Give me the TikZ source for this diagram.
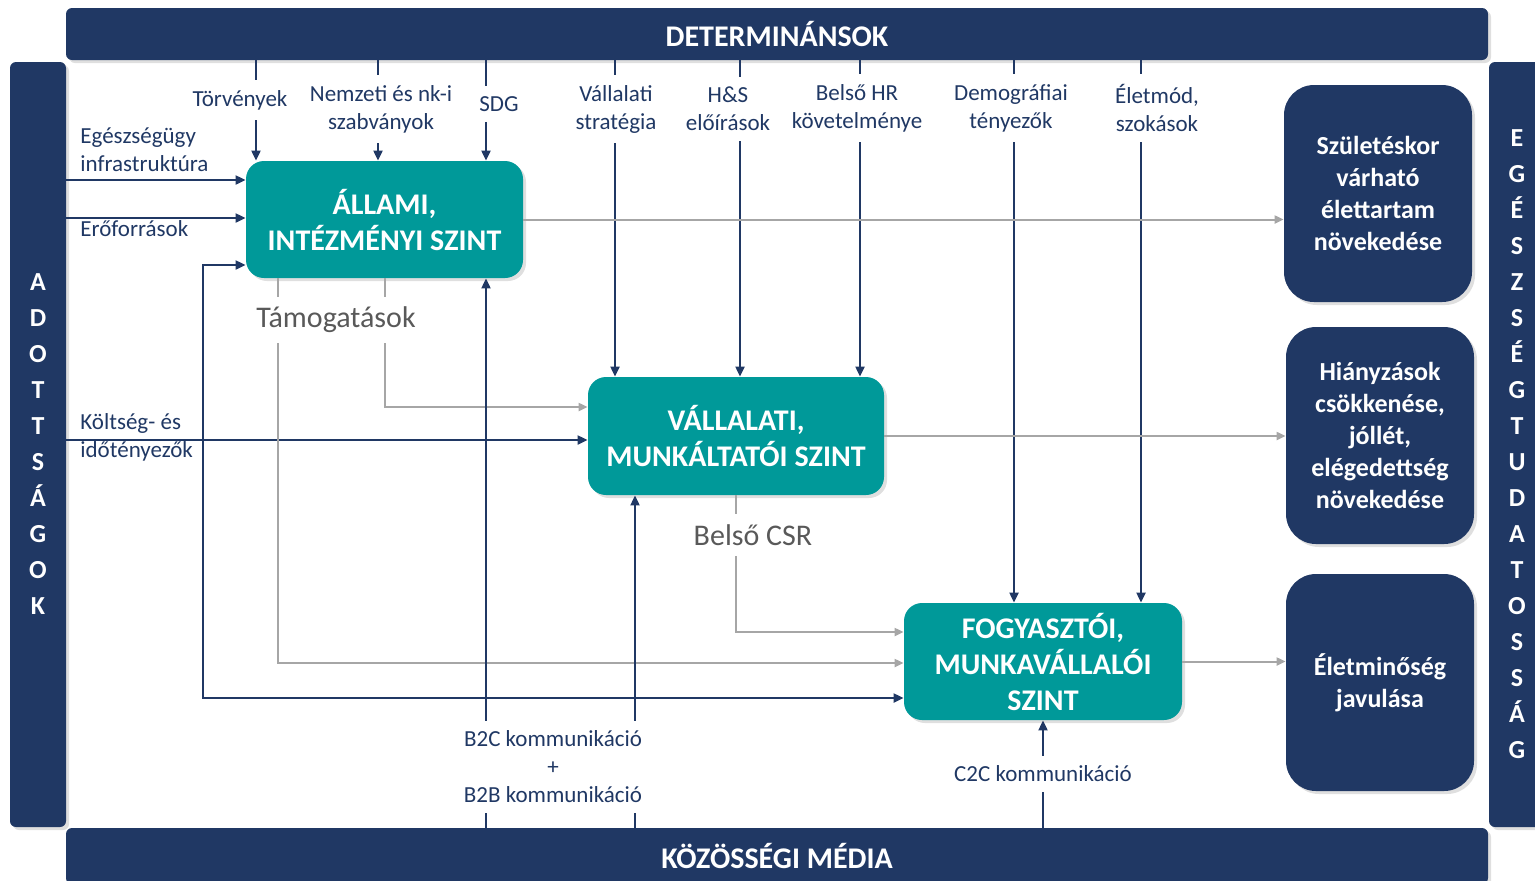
\documentclass[tikz,border=0pt]{standalone}
\usepackage{fontspec}
\setmainfont{Carlito}
\usetikzlibrary{arrows.meta,shadows,calc}
\definecolor{sotetkek}{RGB}{32,56,100}
\definecolor{turkiz}{RGB}{0,153,153}
\definecolor{vilszurke}{RGB}{166,166,166}
\definecolor{szurke}{RGB}{89,89,89}
\newcommand{\feed}[2]{
  \draw [feed] (#1) to (#2)
}
\newcommand{\stub}[2]{
  \draw [stub] (#1) to (#2)
}
\tikzset{
  arnyek/.style={drop shadow={opacity=0.25,shadow xshift=1.5pt,shadow yshift=-1.5pt}},
  bar/.style={fill=sotetkek, rounded corners=3pt, text=white, arnyek,
    font=\bfseries\fontsize{15}{18}\selectfont},
  sidebar/.style={bar, minimum width=28pt, minimum height=382.5pt, align=center,
    font=\bfseries\fontsize{13}{18}\selectfont},
  szint/.style={fill=turkiz, rounded corners=9pt, text=white, align=center, inner sep=2pt,
    arnyek, font=\bfseries\fontsize{15}{18}\selectfont},
  cel/.style={fill=sotetkek, rounded corners=15pt, text=white, align=center,
    minimum width=94pt, minimum height=108.5pt, arnyek,
    font=\bfseries\fontsize{13}{16}\selectfont},
  lbl/.style={text=sotetkek, align=center, inner sep=5pt, font=\fontsize{11.5}{14}\selectfont},
  glbl/.style={text=szurke, inner sep=5pt, font=\fontsize{15}{17}\selectfont},
  feed/.style={draw=sotetkek, line width=1pt, -{Triangle[length=5pt,width=4.5pt]}},
  kettos/.style={feed, {Triangle[length=5pt,width=4.5pt]}-{Triangle[length=5pt,width=4.5pt]}},
  stub/.style={draw=sotetkek, line width=1pt},
  gfeed/.style={draw=vilszurke, line width=1pt, -{Triangle[length=4.5pt,width=4pt]}},
  gstub/.style={draw=vilszurke, line width=1pt}
}
\begin{document}
\begin{tikzpicture}[x=0.5pt,y=-0.5pt]
\useasboundingbox (0,0) rectangle (1535,880);

% frame
\node[bar, minimum width=711pt, minimum height=26pt] (determ) at (777,34) {DETERMINÁNSOK};
\node[bar, minimum width=711pt, minimum height=28pt] (media) at (777,856) {KÖZÖSSÉGI MÉDIA};
\node[sidebar] (adott) at (38,444.5) {A\\D\\O\\T\\T\\S\\Á\\G\\O\\K};
\node[sidebar] (tudat) at (1517,444.5) {E\\G\\É\\S\\Z\\S\\É\\G\\T\\U\\D\\A\\T\\O\\S\\S\\Á\\G};

% levels
\node[szint, minimum width=138.5pt, minimum height=58.5pt] (allami) at (384.5,219.5) {ÁLLAMI,\\INTÉZMÉNYI SZINT};
\node[szint, minimum width=148pt, minimum height=59pt] (vallalati) at (736,436) {VÁLLALATI,\\MUNKÁLTATÓI SZINT};
\node[szint, minimum width=139pt, minimum height=58.5pt] (fogyaszto) at (1043,661.5) {FOGYASZTÓI,\\MUNKAVÁLLALÓI\\SZINT};

% outcomes
\node[cel] (cel1) at (1378,193.5) {Születéskor\\várható\\élettartam\\növekedése};
\node[cel] (cel2) at (1380,435.5) {Hiányzások\\csökkenése,\\jóllét,\\elégedettség\\növekedése};
\node[cel] (cel3) at (1380,682.5) {Életminőség\\javulása};

% top labels
\node[lbl] (torv)  at ( 240,100) {Törvények};
\node[lbl] (nemz)  at ( 381,109) {Nemzeti és nk-i\\szabványok};
\node[lbl] (sdg)   at ( 499,104) {SDG};
\node[lbl] (strat) at ( 616,109) {Vállalati\\stratégia};
\node[lbl] (hs)    at ( 728,109) {H\&S\\előírások};
\node[lbl] (hr)    at ( 857,108) {Belső HR\\követelménye};
\node[lbl] (demo)  at (1011,108) {Demográfiai\\tényezők};
\node[lbl] (eletm) at (1157,108) {Életmód,\\szokások};

% left labels
\node[lbl, anchor=west, align=left] (infra) at (70,150) {Egészségügy\\infrastruktúra};
\node[lbl, anchor=west] (eroforr) at (70,229) {Erőforrások};
\node[lbl, anchor=west, align=left] (koltseg) at (70,437) {Költség- és\\időtényezők};

% grey labels
\node[glbl] (tamog) at (336,320) {Támogatások};
\node[glbl] (csr)   at (753,535) {Belső CSR};

% bottom labels
\node[lbl] (b2c) at ( 553,767) {B2C kommunikáció\\+\\B2B kommunikáció};
\node[lbl] (c2c) at (1043,774) {C2C kommunikáció};

% line positions
\coordinate (xTorv)  at ( 256,0);
\coordinate (xNemz)  at ( 378,0);
\coordinate (xSdg)   at ( 486,0);
\coordinate (xStrat) at ( 615,0);
\coordinate (xHs)    at ( 740,0);
\coordinate (xHr)    at ( 860,0);
\coordinate (xDemo)  at (1014,0);
\coordinate (xEletm) at (1141,0);
\coordinate (xTamA)  at ( 278,0);
\coordinate (xTamB)  at ( 385,0);
\coordinate (xKor)   at ( 203,0);
\coordinate (xB2b)   at ( 635,0);

% entry points
\coordinate (inInfra) at ($(allami.west)+(0,-39.5)$);
\coordinate (inEro)   at ($(allami.west)+(0,-1.5)$);
\coordinate (inKor)   at ($(allami.west)+(0,45.5)$);
\coordinate (inKolt)  at ($(vallalati.west)+(0,4)$);
\coordinate (inTamB)  at ($(vallalati.west)+(0,-29)$);
\coordinate (inCsr)   at ($(fogyaszto.west)+(0,-29.5)$);
\coordinate (inTamA)  at ($(fogyaszto.west)+(0,1.5)$);
\coordinate (inKor2)  at ($(fogyaszto.west)+(0,36.5)$);

% connect determinants
\stub {xTorv |- determ.south} {xTorv |- torv.north};
\feed {xTorv |- torv.south} {xTorv |- allami.north};
\stub {xNemz |- determ.south} {xNemz |- nemz.north};
\feed {xNemz |- nemz.south} {xNemz |- allami.north};
\stub {xSdg |- determ.south} {xSdg |- sdg.north};
\feed {xSdg |- sdg.south} {xSdg |- allami.north};
\stub {xStrat |- determ.south} {xStrat |- strat.north};
\feed {xStrat |- strat.south} {xStrat |- vallalati.north};
\stub {xHs |- determ.south} {xHs |- hs.north};
\feed {xHs |- hs.south} {xHs |- vallalati.north};
\stub {xHr |- determ.south} {xHr |- hr.north};
\feed {xHr |- hr.south} {xHr |- vallalati.north};
\stub {xDemo |- determ.south} {xDemo |- demo.north};
\feed {xDemo |- demo.south} {xDemo |- fogyaszto.north};
\stub {xEletm |- determ.south} {xEletm |- eletm.north};
\feed {xEletm |- eletm.south} {xEletm |- fogyaszto.north};

% connect left side
\feed {inInfra -| adott.east} {inInfra};
\feed {inEro -| adott.east} {inEro};
\feed {inKolt -| adott.east} {inKolt};
\draw[kettos] (inKor) -- (inKor -| xKor) -- (inKor2 -| xKor) -- (inKor2);

% connect support lines
\draw[gstub] (xTamA |- allami.south) -- (xTamA |- tamog.north);
\draw[gstub] (xTamB |- allami.south) -- (xTamB |- tamog.north);
\draw[gfeed] (xTamA |- tamog.south) |- (inTamA);
\draw[gfeed] (xTamB |- tamog.south) |- (inTamB);
\draw[gstub] (vallalati.south) -- (vallalati.south |- csr.north);
\draw[gfeed] (vallalati.south |- csr.south) |- (inCsr);

% connect outcomes
\draw[gfeed] (allami.east) -- (allami.east -| cel1.west);
\draw[gfeed] (vallalati.east) -- (vallalati.east -| cel2.west);
\draw[gfeed] (fogyaszto.east) -- (fogyaszto.east -| cel3.west);

% connect social media
\stub {xSdg |- media.north} {xSdg |- b2c.south};
\feed {xSdg |- b2c.north} {xSdg |- allami.south};
\stub {xB2b |- media.north} {xB2b |- b2c.south};
\feed {xB2b |- b2c.north} {xB2b |- vallalati.south};
\stub {c2c |- media.north} {c2c.south};
\feed {c2c.north} {fogyaszto.south};

\end{tikzpicture}
\end{document}
